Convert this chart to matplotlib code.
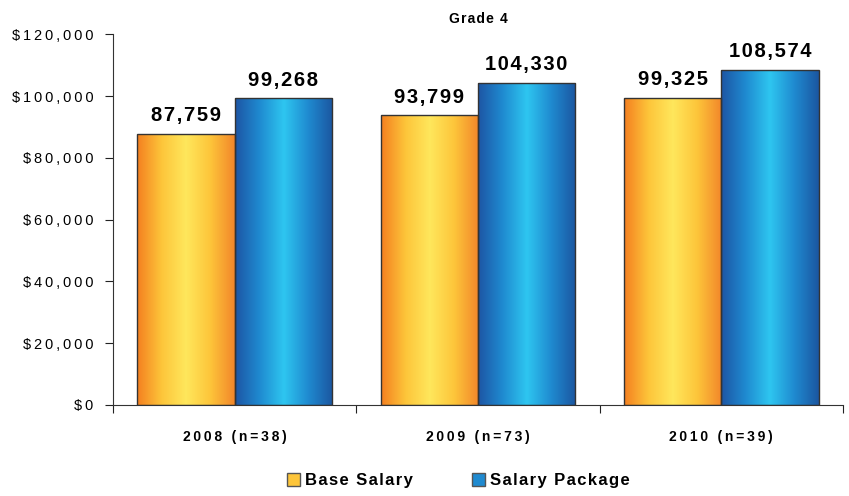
import numpy as np
import matplotlib.pyplot as plt
from matplotlib.patches import Rectangle
from matplotlib.colors import LinearSegmentedColormap

plt.rcParams['font.family'] = ['Liberation Sans', 'DejaVu Sans']

# data
categories = ["2008 (n=38)", "2009 (n=73)", "2010 (n=39)"]
base_salary = [87759, 93799, 99325]
salary_package = [99268, 104330, 108574]
series_names = ["Base Salary", "Salary Package"]
yticks = [0, 20000, 40000, 60000, 80000, 100000, 120000]


# the source chart uses wide letter spacing
def spaced(s, sp):
    return sp.join(list(s))


orange_cmap = LinearSegmentedColormap.from_list(
    "orange", ["#F47F20", "#FDC53A", "#FFE75C", "#FDC53A", "#F2862A"])
blue_cmap = LinearSegmentedColormap.from_list(
    "blue", ["#1D55A4", "#1F8AD0", "#2EC6F0", "#1F8AD0", "#1B56A0"])

fig = plt.figure(figsize=(8.49, 4.96), dpi=100)
ax = fig.add_axes([0.133, 0.1835, 0.86, 0.7475])

width = 0.4
x = np.arange(len(categories))
grad = np.linspace(0, 1, 256).reshape(1, -1)


def gradient_bar(x0, h, cmap):
    im = ax.imshow(grad, cmap=cmap, aspect='auto', extent=[x0, x0 + width, 0, h],
                   interpolation='bicubic', zorder=2)
    rect = Rectangle((x0, 0), width, h, facecolor='none', edgecolor='#333333',
                     linewidth=1.0, zorder=3)
    ax.add_patch(rect)
    im.set_clip_path(rect)


for i in range(len(categories)):
    gradient_bar(x[i] - width, base_salary[i], orange_cmap)
    gradient_bar(x[i], salary_package[i], blue_cmap)
    ax.text(x[i] - width / 2, base_salary[i] + 2800, spaced(f"{base_salary[i]:,}", "\u200a"),
            ha='center', va='bottom', fontsize=14.5, fontweight='bold')
    ax.text(x[i] + width / 2, salary_package[i] + 2800, spaced(f"{salary_package[i]:,}", "\u200a"),
            ha='center', va='bottom', fontsize=14.5, fontweight='bold')

ax.set_xlim(-0.5, len(categories) - 0.5)
ax.set_ylim(0, 120000)
ax.set_yticks(yticks)
ax.set_yticklabels([spaced(f"${v:,}", "\u2009") for v in yticks], fontsize=10.5)
ax.set_xticks(np.arange(-0.5, len(categories), 1.0))
ax.set_xticklabels([])
ax.set_xticks(x, minor=True)
ax.set_xticklabels([spaced(c, "\u2009") for c in categories], minor=True,
                   fontsize=10, fontweight='bold')
ax.tick_params(axis='x', which='minor', length=0, pad=18)
ax.tick_params(axis='x', which='major', length=6, direction='out', color='#222222')
ax.tick_params(axis='y', length=6, direction='out', pad=8, color='#222222')

for s in ['top', 'right']:
    ax.spines[s].set_visible(False)
ax.spines['left'].set_color('#333333')
ax.spines['bottom'].set_color('#333333')

ax.set_title(spaced("Grade 4", "\u200a"), fontsize=10, fontweight='bold', pad=8)

handles = [Rectangle((0, 0), 1, 1, facecolor="#FDC53A", edgecolor='#555555'),
           Rectangle((0, 0), 1, 1, facecolor="#1F8AD0", edgecolor='#555555')]
fig.legend(handles, [spaced(n, "\u200a") for n in series_names], loc='lower center',
           bbox_to_anchor=(0.54, -0.015),
           ncol=2, frameon=False, handlelength=0.8, handleheight=0.8,
           handletextpad=0.3, columnspacing=3.5,
           prop={'weight': 'bold', 'size': 12})

fig.savefig("out.png", dpi=100)
